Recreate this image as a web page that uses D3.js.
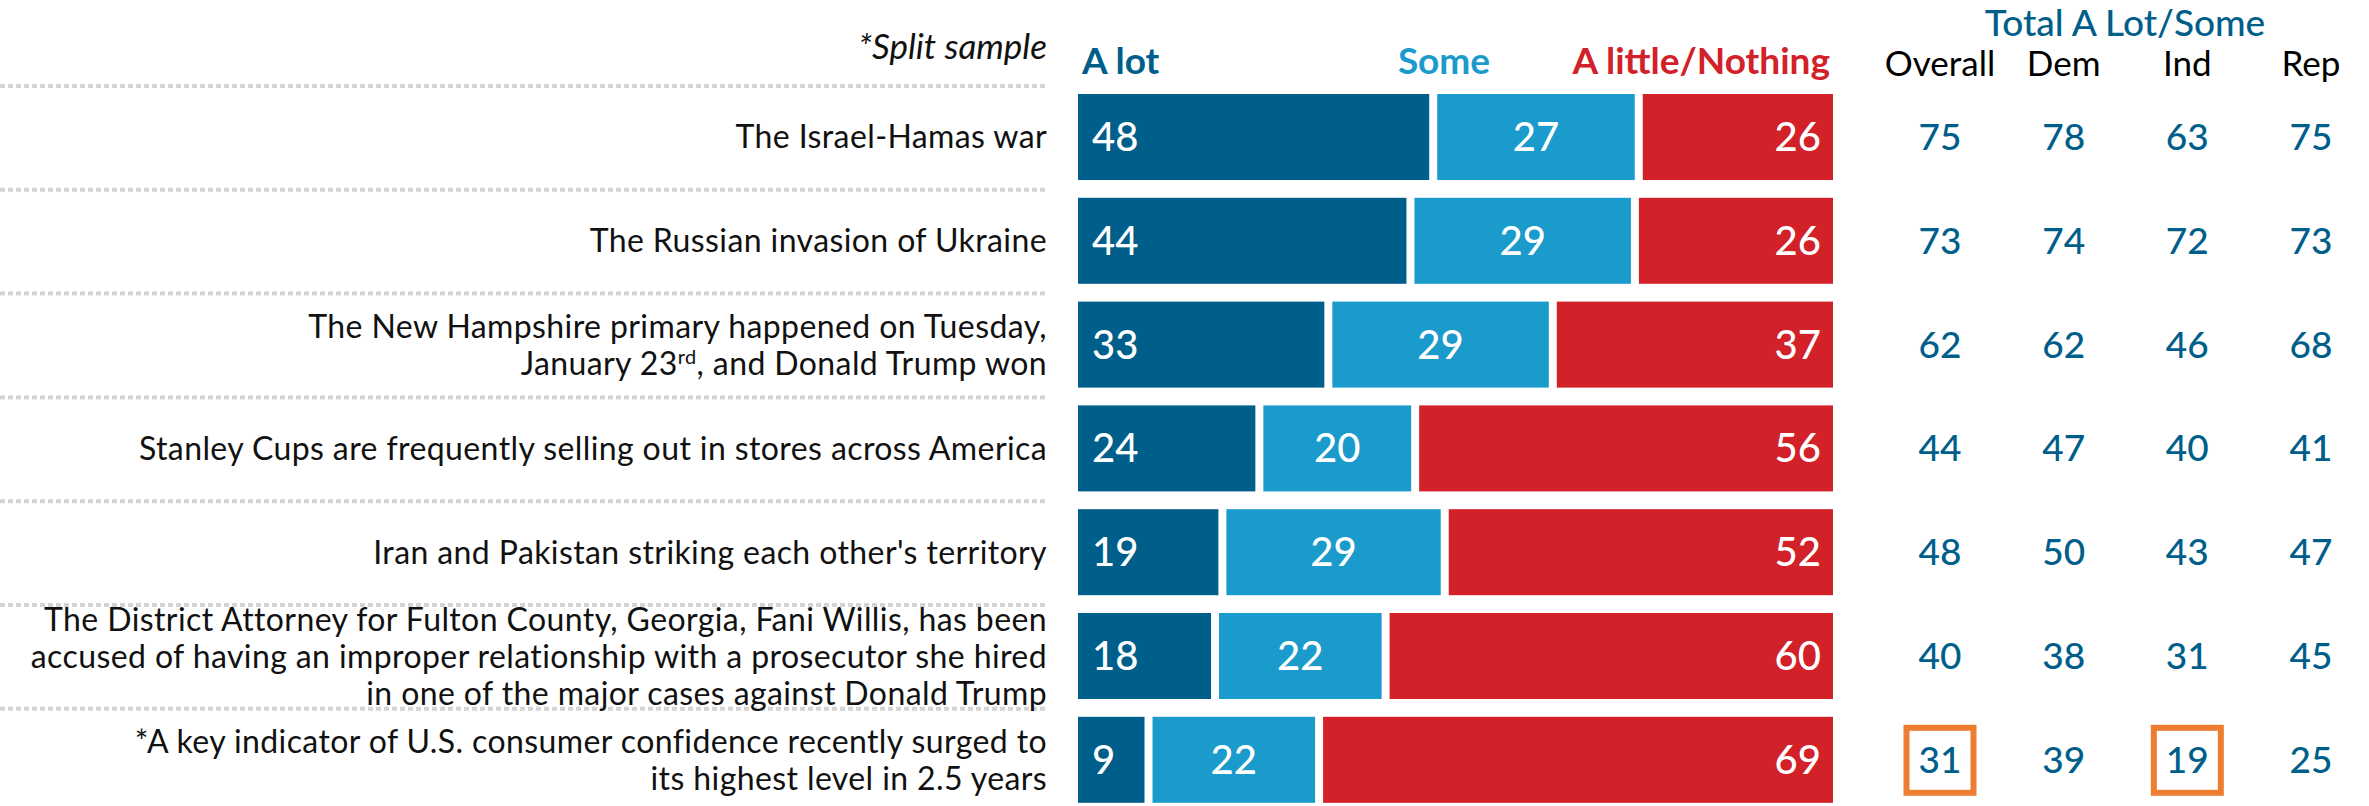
<!DOCTYPE html>
<html>
<head>
<meta charset="utf-8">
<script src="https://cdn.jsdelivr.net/npm/d3@7"></script>
<style>
  html, body { margin: 0; padding: 0; background: #fff; }
  svg { display: block; font-family: Lato, "Open Sans", sans-serif; }
</style>
</head>
<body>
<svg id="chart" width="2369" height="806"></svg>
<script>
// Survey items (each entry is a list of wrapped lines; "^" marks superscript text)
const items = [
  ["The Israel-Hamas war"],
  ["The Russian invasion of Ukraine"],
  ["The New Hampshire primary happened on Tuesday,", "January 23^rd^, and Donald Trump won"],
  ["Stanley Cups are frequently selling out in stores across America"],
  ["Iran and Pakistan striking each other's territory"],
  ["The District Attorney for Fulton County, Georgia, Fani Willis, has been",
   "accused of having an improper relationship with a prosecutor she hired",
   "in one of the major cases against Donald Trump"],
  ["*A key indicator of U.S. consumer confidence recently surged to", "its highest level in 2.5 years"]
];

// Share who heard each amount
const aLot = [48, 44, 33, 24, 19, 18, 9];
const some = [27, 29, 29, 20, 29, 22, 22];
const littleNothing = [26, 26, 37, 56, 52, 60, 69];

// Total A Lot/Some by group
const groups = ["Overall", "Dem", "Ind", "Rep"];
const overall = [75, 73, 62, 44, 48, 40, 31];
const dem = [78, 74, 62, 47, 50, 38, 39];
const ind = [63, 72, 46, 40, 43, 31, 19];
const rep = [75, 73, 68, 41, 47, 45, 25];

// Highlighted cells: [row, group]
const highlights = [[6, "Overall"], [6, "Ind"]];

const seriesNames = ["A lot", "Some", "A little/Nothing"];
const colors = { "A lot": "#005e8a", "Some": "#1a9bcc", "A little/Nothing": "#d22128" };
const blue = "#005e8a";

const svg = d3.select("#chart");

const labelRight = 1047;
const barLeft = 1078, barRight = 1833, gap = 8;

const rows = d3.range(items.length);
const y = d3.scaleBand().domain(rows).range([94, 802.8]).paddingInner(0.1715).paddingOuter(0);

// Dotted row separators on the label side
svg.append("g").selectAll("line").data(rows).join("line")
  .attr("x1", 0).attr("x2", labelRight)
  .attr("y1", d => y(d) - 8).attr("y2", d => y(d) - 8)
  .attr("stroke", "#d4d4d4").attr("stroke-width", 4)
  .attr("stroke-dasharray", "5,3");

// Row labels
const lineH = 37;
const labelG = svg.append("g").attr("font-size", 32).attr("fill", "#111")
  .attr("letter-spacing", 0.4).attr("text-anchor", "end");
rows.forEach(i => {
  const lines = items[i];
  const cy = y(i) + y.bandwidth() / 2;
  const first = cy - (lines.length - 1) * lineH / 2 + 11.5;
  const t = labelG.append("text").attr("x", labelRight).attr("y", first);
  lines.forEach((ln, k) => {
    const parts = ln.split("^");
    parts.forEach((p, j) => {
      const ts = t.append("tspan").text(p);
      if (j === 0) ts.attr("x", labelRight).attr("y", first + k * lineH);
      if (j % 2 === 1) ts.attr("font-size", 20).attr("dy", -11);
      if (j > 0 && j % 2 === 0) ts.attr("dy", 11);
    });
  });
});

// Stacked 100% bars, each row normalised to its own total
const barG = svg.append("g");
rows.forEach(i => {
  const vals = [aLot[i], some[i], littleNothing[i]];
  const total = d3.sum(vals);
  const x = d3.scaleLinear().domain([0, total]).range([barLeft, barRight - gap * (vals.length - 1)]);
  let cum = 0;
  vals.forEach((v, k) => {
    const x0 = x(cum) + k * gap;
    const x1 = x(cum + v) + k * gap;
    cum += v;
    barG.append("rect")
      .attr("x", x0).attr("y", y(i))
      .attr("width", x1 - x0).attr("height", y.bandwidth())
      .attr("fill", colors[seriesNames[k]]);
    const lbl = barG.append("text")
      .attr("y", y(i) + y.bandwidth() / 2 + 14)
      .attr("font-size", 40).attr("font-weight", 500).attr("fill", "#fff")
      .text(v);
    if (k === 0) lbl.attr("x", x0 + 14).attr("text-anchor", "start");
    else if (k === 1) lbl.attr("x", (x0 + x1) / 2).attr("text-anchor", "middle");
    else lbl.attr("x", x1 - 12).attr("text-anchor", "end");
  });
});

// Column headers
svg.append("text").attr("x", labelRight).attr("y", 59)
  .attr("text-anchor", "end").attr("font-size", 35).attr("font-style", "italic").attr("fill", "#111")
  .text("*Split sample");
svg.append("text").attr("x", 1082).attr("y", 74).attr("font-size", 37).attr("font-weight", 700)
  .attr("fill", colors["A lot"]).text("A lot");
svg.append("text").attr("x", 1444).attr("y", 74).attr("text-anchor", "middle").attr("font-size", 37).attr("font-weight", 700)
  .attr("fill", colors["Some"]).text("Some");
svg.append("text").attr("x", 1830).attr("y", 74).attr("text-anchor", "end").attr("font-size", 37).attr("font-weight", 700)
  .attr("fill", colors["A little/Nothing"]).text("A little/Nothing");

// Totals table
const gx = d3.scalePoint().domain(groups).range([1940, 2311]);
svg.append("text").attr("x", 2125).attr("y", 36).attr("text-anchor", "middle")
  .attr("font-size", 37).attr("font-weight", 500).attr("fill", blue).text("Total A Lot/Some");
svg.append("g").selectAll("text").data(groups).join("text")
  .attr("x", d => gx(d)).attr("y", 76).attr("text-anchor", "middle")
  .attr("font-size", 35).attr("fill", "#000").text(d => d);

const totals = { Overall: overall, Dem: dem, Ind: ind, Rep: rep };
const tableG = svg.append("g").attr("font-size", 37).attr("font-weight", 500)
  .attr("fill", blue).attr("text-anchor", "middle");
groups.forEach(g => {
  tableG.selectAll(null).data(rows).join("text")
    .attr("x", gx(g)).attr("y", d => y(d) + y.bandwidth() / 2 + 13)
    .text(d => totals[g][d]);
});

// Highlight boxes
svg.append("g").selectAll("rect").data(highlights).join("rect")
  .attr("x", d => gx(d[1]) - 33.5).attr("y", d => y(d[0]) + y.bandwidth() / 2 - 32)
  .attr("width", 67).attr("height", 65)
  .attr("fill", "none").attr("stroke", "#ed7d31").attr("stroke-width", 6);
</script>
</body>
</html>
